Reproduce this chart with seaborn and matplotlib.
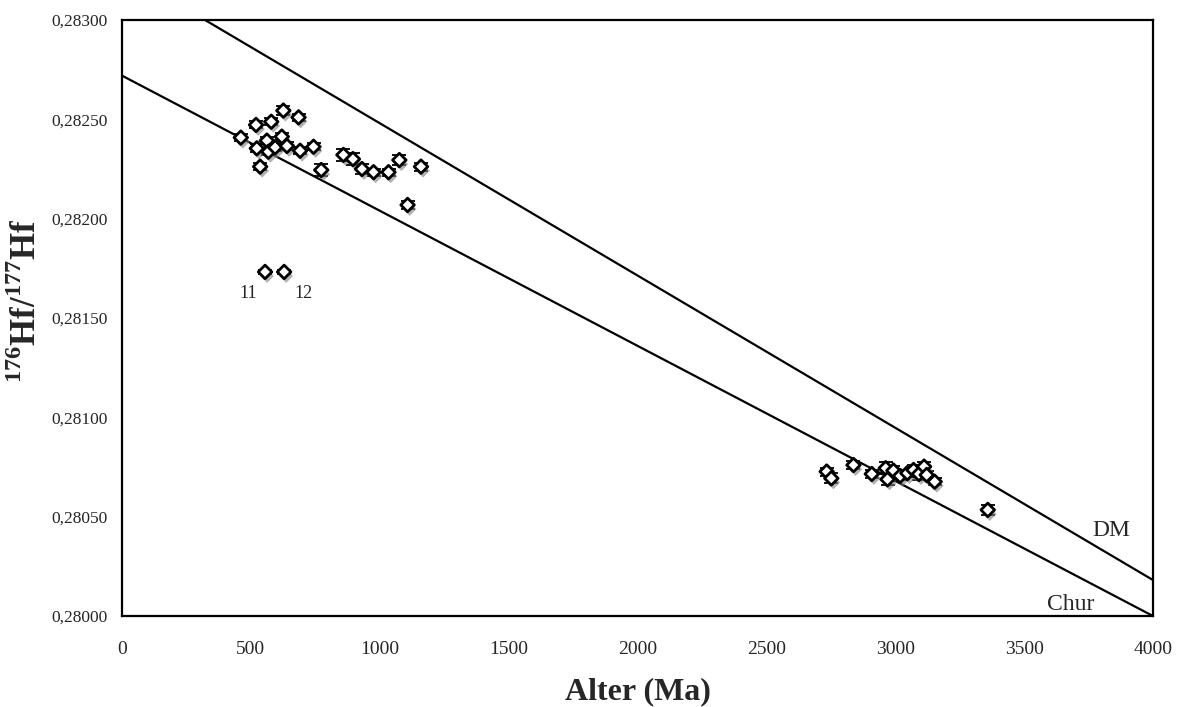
import numpy as np
import pandas as pd
import matplotlib
matplotlib.use("Agg")
import matplotlib.pyplot as plt
import matplotlib.patheffects as pe
import seaborn as sns

# ---- data ----
age_ma = [461, 520, 579, 626, 685, 523, 562, 568, 594, 620, 640, 691, 743, 536, 773,
          859, 896, 931, 976, 1034, 1076, 1160, 1108, 555, 629,
          2734, 2752, 2838, 2909, 2963, 2970, 2993, 3019, 3047, 3071, 3092, 3112, 3122, 3153, 3359]
hf_ratio = [0.282408, 0.282472, 0.282488, 0.282544, 0.282510, 0.282354, 0.282393, 0.282337,
            0.282359, 0.282413, 0.282366, 0.282342, 0.282362, 0.282262, 0.282245,
            0.282321, 0.282300, 0.282250, 0.282234, 0.282234, 0.282295, 0.282262, 0.282069,
            0.281732, 0.281732,
            0.280727, 0.280693, 0.280760, 0.280715, 0.280744, 0.280688, 0.280732, 0.280705,
            0.280719, 0.280735, 0.280715, 0.280752, 0.280710, 0.280676, 0.280534]
hf_err = [0.000018, 0.000018, 0.000018, 0.000022, 0.000018, 0.000020, 0.000018, 0.000018,
          0.000018, 0.000018, 0.000018, 0.000018, 0.000018, 0.000018, 0.000030,
          0.000030, 0.000030, 0.000025, 0.000018, 0.000018, 0.000025, 0.000020, 0.000018,
          0.000012, 0.000012,
          0.000020, 0.000025, 0.000020, 0.000018, 0.000030, 0.000030, 0.000025, 0.000020,
          0.000018, 0.000025, 0.000030, 0.000025, 0.000020, 0.000018, 0.000025]

chur_age = [0, 4000]
chur_hf = [0.282720, 0.280000]
dm_age = [0, 4000]
dm_hf = [0.283247, 0.280181]

outlier_labels = ["11", "12"]
outlier_age = [555, 629]
outlier_hf = [0.281732, 0.281732]

x_ticks = [0, 500, 1000, 1500, 2000, 2500, 3000, 3500, 4000]
y_ticks = [0.28000, 0.28050, 0.28100, 0.28150, 0.28200, 0.28250, 0.28300]
y_tick_labels = ["0,28000", "0,28050", "0,28100", "0,28150", "0,28200", "0,28250", "0,28300"]

df = pd.DataFrame({"age": age_ma, "hf": hf_ratio, "err": hf_err})

# ---- style ----
sns.set_style("white")
plt.rcParams["font.family"] = ["Liberation Serif", "DejaVu Serif"]
plt.rcParams["mathtext.fontset"] = "custom"
plt.rcParams["mathtext.rm"] = "Liberation Serif"
plt.rcParams["mathtext.bf"] = "Liberation Serif:bold"

fig = plt.figure(figsize=(11.8, 7.07), dpi=100)
ax = fig.add_axes([0.1034, 0.1287, 0.9771 - 0.1034, 0.9717 - 0.1287])

# reference lines
ax.plot(dm_age, dm_hf, color="black", lw=1.6, zorder=2)
ax.plot(chur_age, chur_hf, color="black", lw=1.6, zorder=2)

# error bars
ax.errorbar(df["age"], df["hf"], yerr=df["err"], fmt="none", ecolor="black",
            elinewidth=1.0, capsize=5, capthick=1.3, zorder=3)

# points
sns.scatterplot(data=df, x="age", y="hf", marker="D", s=48, color="white",
                edgecolor="black", linewidth=2.0, ax=ax, zorder=4,
                path_effects=[pe.SimplePatchShadow(offset=(1.5, -3), shadow_rgbFace="0.5", alpha=0.6),
                              pe.Normal()])

# annotations
ax.annotate(outlier_labels[0], (outlier_age[0], outlier_hf[0]), xytext=(-12, -22),
            textcoords="offset points", fontsize=13, ha="center", va="bottom")
ax.annotate(outlier_labels[1], (outlier_age[1], outlier_hf[1]), xytext=(14, -22),
            textcoords="offset points", fontsize=13, ha="center", va="bottom")
ax.text(3840, 0.28043, "DM", fontsize=17, ha="center", va="center")
ax.text(3680, 0.28006, "Chur", fontsize=17, ha="center", va="center")

ax.set_xlim(0, 4000)
ax.set_ylim(0.28000, 0.28300)
ax.set_xticks(x_ticks)
ax.set_xticklabels([str(v) for v in x_ticks], fontsize=14)
ax.set_yticks(y_ticks)
ax.set_yticklabels(y_tick_labels, fontsize=12.5)
ax.tick_params(axis="both", direction="out", length=6, width=1, color="0.75", pad=4)
ax.tick_params(axis="x", pad=12)

for s in ax.spines.values():
    s.set_visible(True)
    s.set_color("black")
    s.set_linewidth(1.6)

ax.set_xlabel("Alter (Ma)", fontsize=23, fontweight="bold", labelpad=14)
ax.set_ylabel(r"$^{\mathbf{176}}$Hf/$^{\mathbf{177}}$Hf", fontsize=25, fontweight="bold")
ax.yaxis.set_label_coords(-0.076, 0.53)
ax.grid(False)

fig.savefig("out.png", dpi=100)
